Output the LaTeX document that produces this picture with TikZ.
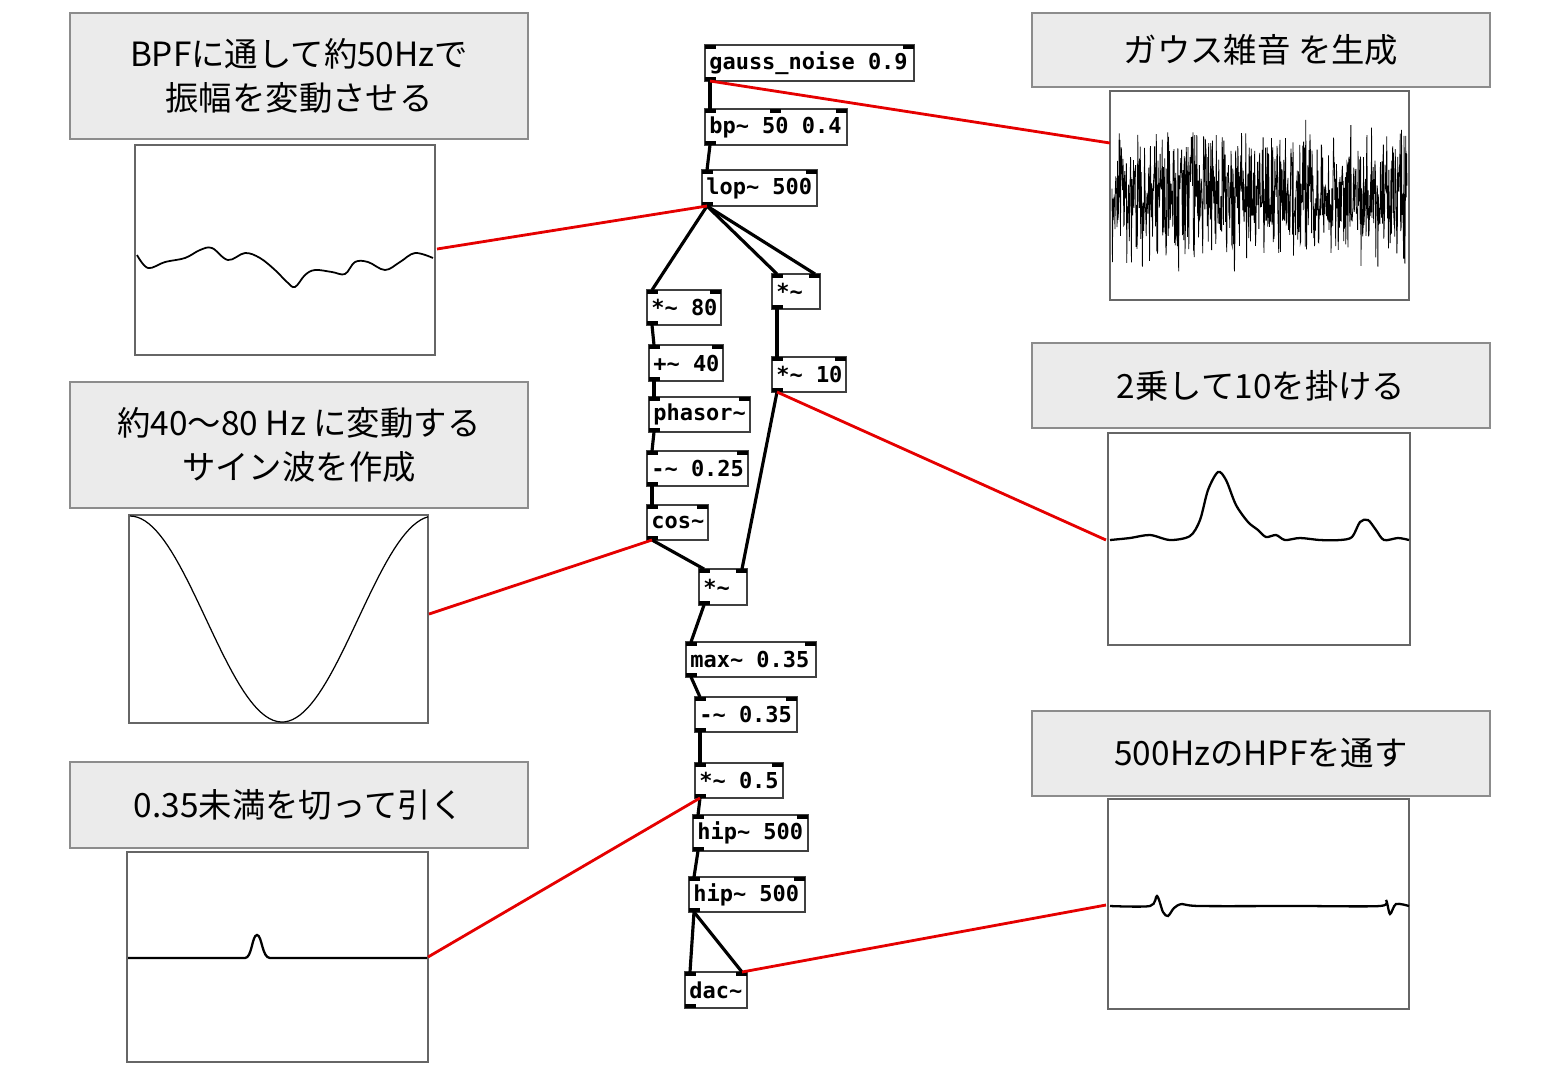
\documentclass[tikz,border=0pt]{standalone}
\usepackage{fontspec}
\setmainfont{Noto Sans CJK JP}
\newfontfamily\pdmono{DejaVu Sans Mono}
\begin{document}
\begin{tikzpicture}[x=0.02cm,y=-0.02cm,
  obj/.style={draw=black!75,line width=0.8pt,fill=white,inner sep=0pt},
  io/.style={fill=black},
  lab/.style={draw=black!45,fill=black!8,line width=0.8pt},
  plotbox/.style={draw=black!60,line width=0.8pt,fill=white},
  wire/.style={line width=1.8pt,black},
  red/.style={line width=1.6pt,red!90!black},
  wave/.style={line width=1pt,black},
  ptxt/.style={font=\pdmono\bfseries\fontsize{12.5}{14}\selectfont,anchor=west,inner sep=0pt},
  ltxt/.style={font=\fontsize{19}{25}\selectfont,align=center}]
\useasboundingbox (0,0) rectangle (1568,1080);
\foreach \n/\a/\b/\c/\d/\t in {
 gn/705/45/914/81/gauss\_noise 0.9,
 bp/705/109/847/145/bp\~{} 50 0.4,
 lop/702/170/817/206/lop\~{} 500,
 m80/647/290/721/325/*\~{} 80,
 msq/772/274/820/309/*\~{},
 p40/649/345/723/381/+\~{} 40,
 m10/772/357/846/392/*\~{} 10,
 ph/649/397/750/432/phasor\~{},
 s25/647/451/748/486/-\~{} 0.25,
 cs/647/505/708/540/cos\~{},
 mm/699/569/747/605/*\~{},
 mx/686/642/816/677/max\~{} 0.35,
 s35/695/697/797/732/-\~{} 0.35,
 m05/695/763/783/798/*\~{} 0.5,
 hA/693/815/808/851/hip\~{} 500,
 hB/689/877/805/912/hip\~{} 500,
 dac/685/972/747/1008/dac\~{}}{
  \draw[obj] (\a,\b) rectangle (\c,\d);
  \coordinate (\n-tl) at (\a+5,\b);
  \coordinate (\n-tr) at (\c-5,\b);
  \coordinate (\n-bl) at (\a+5,\d);
  \fill[io] (\a,\b) rectangle (\a+11,\b+4);
  \fill[io] (\c-11,\b) rectangle (\c,\b+4);
  \fill[io] (\a,\d-4) rectangle (\a+11,\d);
  \node[ptxt] (\n) at (\a+4,{(\b+\d)/2}) {\t};
}
\fill[io] (770,109) rectangle (781,113);
% wires
\draw[wire] (gn-bl) -- (bp-tl);
\draw[wire] (bp-bl) -- (lop-tl);
\draw[wire] (lop-bl) -- (m80-tl);
\draw[wire] (lop-bl) -- (msq-tl);
\draw[wire] (lop-bl) -- (msq-tr);
\draw[wire] (msq-bl) -- (m10-tl);
\draw[wire] (m80-bl) -- (p40-tl);
\draw[wire] (p40-bl) -- (ph-tl);
\draw[wire] (ph-bl) -- (s25-tl);
\draw[wire] (s25-bl) -- (cs-tl);
\draw[wire] (cs-bl) -- (mm-tl);
\draw[wire] (m10-bl) -- (mm-tr);
\draw[wire] (mm-bl) -- (mx-tl);
\draw[wire] (mx-bl) -- (s35-tl);
\draw[wire] (s35-bl) -- (m05-tl);
\draw[wire] (m05-bl) -- (hA-tl);
\draw[wire] (hA-bl) -- (hB-tl);
\draw[wire] (hB-bl) -- (dac-tl);
\draw[wire] (hB-bl) -- (dac-tr);
% label boxes
\draw[lab] (70,13) rectangle (528,139) node[midway,ltxt] (L1) {BPFに通して約50Hzで\\振幅を変動させる};
\draw[lab] (70,382) rectangle (528,508) node[midway,ltxt] (L2) {約40〜80 Hz に変動する\\サイン波を作成};
\draw[lab] (70,762) rectangle (528,848) node[midway,ltxt] (L3) {0.35未満を切って引く};
\draw[lab] (1032,13) rectangle (1490,87) node[midway,ltxt] (R1) {ガウス雑音 を生成};
\draw[lab] (1032,343) rectangle (1490,428) node[midway,ltxt] (R2) {2乗して10を掛ける};
\draw[lab] (1032,711) rectangle (1490,796) node[midway,ltxt] (R3) {500HzのHPFを通す};
% plot boxes
\draw[plotbox] (135,145) rectangle (435,355);
\draw[plotbox] (129,515) rectangle (428,723);
\draw[plotbox] (127,852) rectangle (428,1062);
\draw[plotbox] (1110,91) rectangle (1409,300);
\draw[plotbox] (1108,433) rectangle (1410,645);
\draw[plotbox] (1108,799) rectangle (1409,1009);
% waves
\draw[wave] plot[smooth,tension=0.6] coordinates {(137,255)(148,268)(165,262)(185,258)(200,250)(212,248)(228,260)(245,253)(260,258)(275,270)(287,282)(295,287)(305,275)(315,270)(332,272)(345,274)(355,262)(368,262)(385,270)(400,262)(415,253)(433,258)};
\draw[line width=0.7pt] plot[domain=130:428,samples=80] (\x,{619-103*cos(1.184*(\x-130))});
\draw[wave,line width=1.3pt] (128,958) -- (245,958) .. controls (252,958) and (252,935) .. (257,935) .. controls (262,935) and (262,958) .. (270,958) -- (427,958);
\pgfmathsetseed{7}
\draw[line width=0.45pt] plot[domain=1112:1407,samples=700] (\x,{195+rand*45+rand*35});
\draw[wave,line width=1.3pt] plot[smooth,tension=0.5] coordinates {(1110,540)(1130,538)(1150,535)(1170,540)(1190,536)(1200,520)(1208,490)(1218,472)(1226,480)(1236,505)(1248,522)(1258,530)(1266,537)(1276,535)(1285,540)(1300,538)(1320,540)(1340,540)(1352,537)(1360,522)(1368,520)(1376,530)(1384,540)(1398,538)(1409,540)};
\draw[wave,line width=1.3pt] plot[smooth,tension=0.5] coordinates {(1110,906)(1150,906)(1157,896)(1163,912)(1168,916)(1174,908)(1182,904)(1200,906)(1300,906)(1380,906)(1386,900)(1390,914)(1396,904)(1409,906)};
% red lines
\draw[red] (gn-bl) -- (1110,143);
\draw[red] (lop-bl) -- (437,249);
\draw[red] (m10-bl) -- (1106,540);
\draw[red] (cs-bl) -- (429,614);
\draw[red] (m05-bl) -- (428,957);
\draw[red] (dac-tr) -- (1106,905);
\end{tikzpicture}
\end{document}
